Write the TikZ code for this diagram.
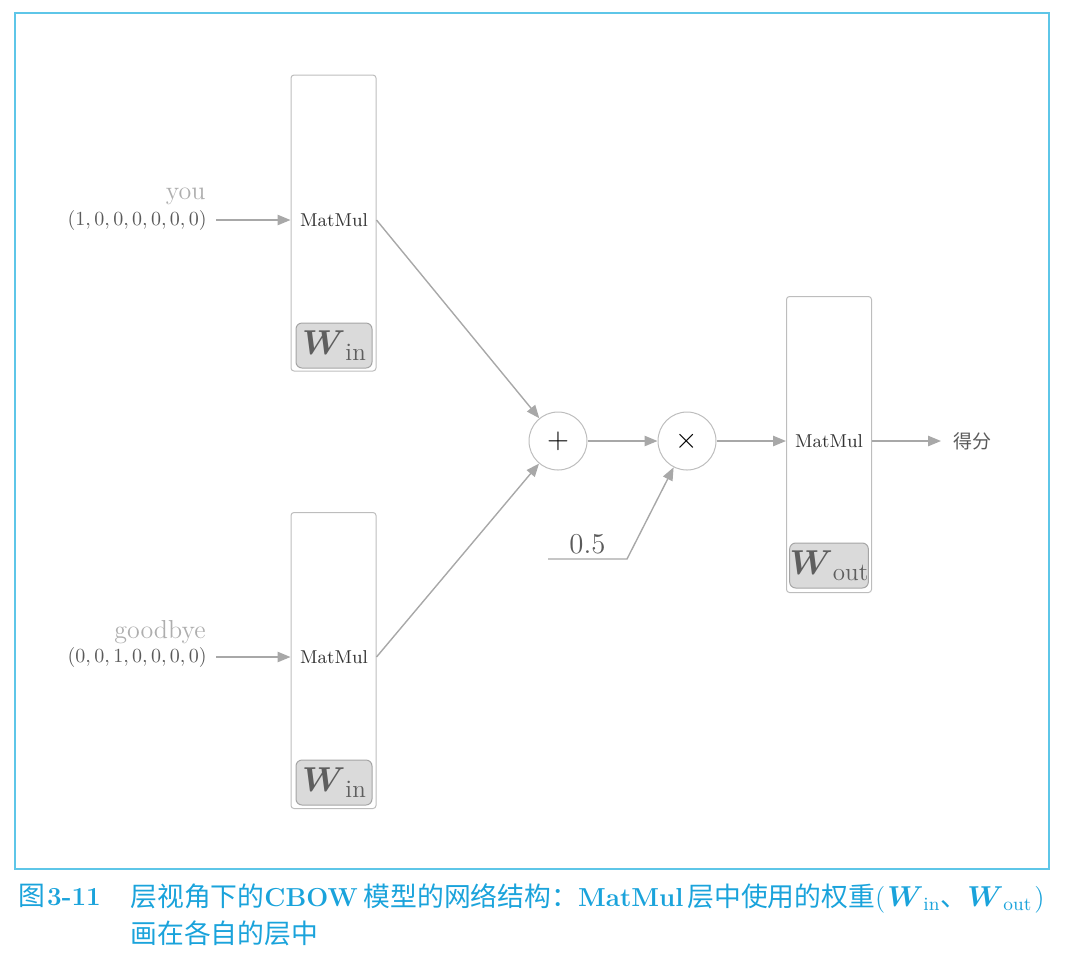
\documentclass[tikz,border=0pt]{standalone}
\usepackage{amsmath,amssymb}
\usepackage{fontspec}
\newfontfamily\cjk{Noto Sans CJK SC}
\usetikzlibrary{arrows.meta,positioning,calc}
\definecolor{framecyan}{HTML}{5EC6E8}
\definecolor{capcyan}{HTML}{1AA3DB}
\definecolor{boxgray}{HTML}{BDBDBD}
\definecolor{arrowgray}{HTML}{A8A8A8}
\definecolor{wordgray}{HTML}{AEAEAE}
\definecolor{vecgray}{HTML}{5A5A5A}
\definecolor{wfill}{HTML}{DADADA}
\definecolor{wborder}{HTML}{A5A5A5}
\definecolor{wtext}{HTML}{5E5E5E}
\newcommand{\wsub}[1]{$\boldsymbol{W}$\raisebox{-3pt}{\fontsize{12.5}{14}\selectfont #1}}
\newcommand{\capbf}[1]{{\fontsize{13}{15}\selectfont\bfseries #1}}

\begin{document}
\begin{tikzpicture}[x=0.5pt,y=-0.5pt]
\tikzset{>={Triangle[length=6.5pt,width=5.2pt]}}
\tikzset{
  layer/.style={draw=boxgray,line width=0.5pt,rounded corners=1.5pt,minimum width=42.5pt,minimum height=148pt,inner sep=0pt},
  wtag/.style={draw=wborder,fill=wfill,line width=0.5pt,rounded corners=3pt,minimum width=38pt,minimum height=22.5pt,inner sep=0pt,text=wtext,font=\fontsize{17.5}{19}\selectfont},
  mm/.style={text=black!80,font=\fontsize{9.3}{11}\selectfont},
  op/.style={circle,draw=boxgray,line width=0.5pt,minimum size=29pt,inner sep=0pt,font=\fontsize{15}{17}\selectfont},
  flow/.style={->,draw=arrowgray,line width=0.7pt},
  word/.style={text=wordgray,anchor=east,inner sep=0pt,font=\fontsize{13}{15}\selectfont},
  vec/.style={text=vecgray,anchor=east,inner xsep=4.5pt,font=\fontsize{9.7}{11}\selectfont}
}
\useasboundingbox (0,0) rectangle (1071,966);
\draw[framecyan,line width=0.7pt] (15,13) rectangle (1049,869);

% input layers
\node[layer] (in1) at (333.5,223) {};
\node[mm] (mm1) at (334,220) {MatMul};
\node[wtag] (win1) at (334,345.5) {\wsub{in}};
\node[layer] (in2) at (333.5,660.5) {};
\node[mm] (mm2) at (334,657) {MatMul};
\node[wtag] (win2) at (334,782.5) {\wsub{in}};

\node[vec] (v1) at (216,220) {$(1,0,0,0,0,0,0)$};
\node[word] (you) at (206,196) {you};
\node[vec] (v2) at (216,657) {$(0,0,1,0,0,0,0)$};
\node[word] (bye) at (206,632) {goodbye};

% ops
\node[op] (plus) at (558,441) {$+$};
\node[op] (times) at (687,441) {$\times$};

% output layer
\node[layer] (out) at (829,444.5) {};
\node[mm] (mm3) at (829,441) {MatMul};
\node[wtag] (wout) at (829,565.5) {\wsub{out}};
\node[anchor=west,inner xsep=6pt,text=vecgray,font=\cjk\fontsize{9.5}{11}\selectfont] (score) at (941,441) {得分};

\coordinate (half) at (548,559);
\coordinate (knee) at (627,559);

\draw[flow] (v1.east) -- (in1.west |- v1.east);
\draw[flow] (v2.east) -- (in2.west |- v2.east);
\draw[flow] (in1.east |- mm1) -- (plus);
\draw[flow] (in2.east |- mm2) -- (plus);
\draw[flow] (plus) -- (times);
\draw[flow] (times) -- (out.west |- mm3);
\draw[flow] (out.east |- mm3) -- (score.west);
\draw[flow] (half) -- node[above=-1pt,text=vecgray,font=\fontsize{13.3}{15}\selectfont] {$0.5$} (knee) -- (times);

% caption
\node[anchor=west,inner sep=0pt,text=capcyan] (fig) at (18,896) {{\cjk\fontsize{13.4}{15}\selectfont 图}\kern1pt\capbf{3-11}};
\node[anchor=north west,inner sep=0pt,text=capcyan,align=left,font=\fontsize{13.4}{18.5}\selectfont] (cap) at (130,883)
  {{\cjk 层视角下的}\capbf{CBOW}\kern3pt{\cjk 模型的网络结构：}\capbf{MatMul}\kern2pt{\cjk 层中使用的权重}(\kern1pt$\boldsymbol{W}_{\mathrm{in}}${\cjk 、}$\boldsymbol{W}_{\mathrm{out}}$\kern1pt)\\
   {\cjk 画在各自的层中}};
\end{tikzpicture}
\end{document}
